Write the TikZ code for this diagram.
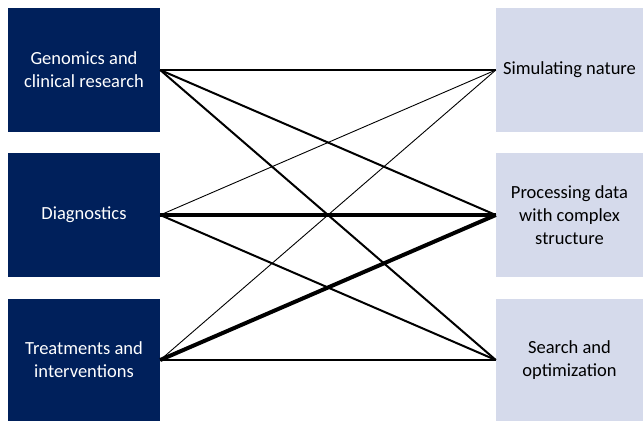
\documentclass[tikz,border=0pt]{standalone}
\usepackage{fontspec}
\setmainfont{Carlito}
\definecolor{navy}{RGB}{0,32,91}
\definecolor{lightbox}{RGB}{213,218,235}
\begin{document}
\begin{tikzpicture}[x=1pt,y=-1pt,
  leftbox/.style={fill=navy,text=white,minimum width=152pt,minimum height=124pt,inner sep=0pt,align=center,font=\fontsize{18.5}{23}\selectfont},
  rightbox/.style={fill=lightbox,text=black,minimum width=147pt,minimum height=124pt,inner sep=0pt,align=center,font=\fontsize{18.5}{23}\selectfont},
  thinl/.style={line width=0.9pt},
  medl/.style={line width=2pt},
  thickl/.style={line width=4pt}]
\useasboundingbox (0,0) rectangle (643,421);
\node[leftbox] (G) at (84,70) {Genomics and\\clinical research};
\node[leftbox] (D) at (84,215) {Diagnostics};
\node[leftbox,minimum height=122pt] (T) at (84,360) {Treatments and\\interventions};
\node[rightbox] (S) at (569.5,70) {Simulating nature};
\node[rightbox] (P) at (569.5,215) {Processing data\\with complex\\structure};
\node[rightbox,minimum height=122pt] (O) at (569.5,360) {Search and\\optimization};
\draw[medl] (G.east) -- (S.west);
\draw[medl] (G.east) -- (P.west);
\draw[medl] (G.east) -- (O.west);
\draw[thinl] (D.east) -- (S.west);
\draw[thickl] (D.east) -- (P.west);
\draw[medl] (D.east) -- (O.west);
\draw[thinl] (T.east) -- (S.west);
\draw[thickl] (T.east) -- (P.west);
\draw[medl] (T.east) -- (O.west);
\end{tikzpicture}
\end{document}
